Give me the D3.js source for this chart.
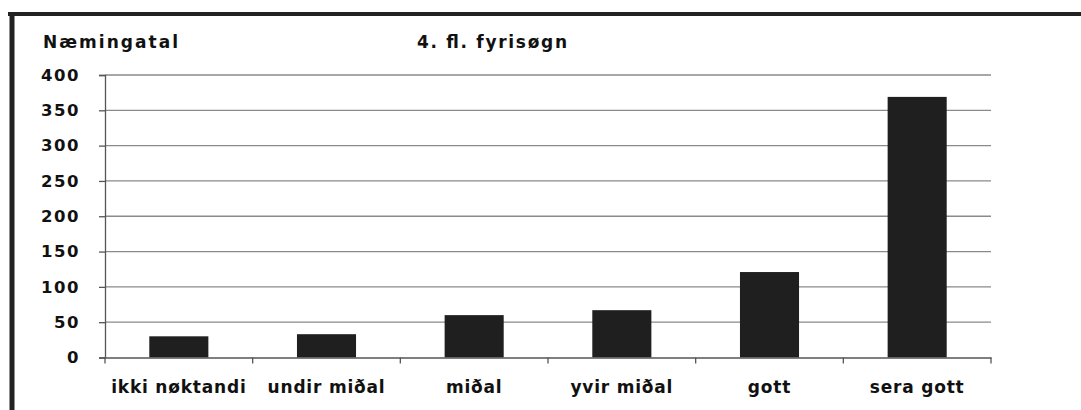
<!DOCTYPE html>
<html>
<head>
<meta charset="utf-8">
<script src="https://cdn.jsdelivr.net/npm/d3@7"></script>
<style>
  body { margin: 0; background: #fff; }
  svg { display: block; }
  .lbl { font-family: "DejaVu Sans", sans-serif; font-weight: bold; fill: #111; }
</style>
</head>
<body>
<script>
// Data
var categories = ["ikki nøktandi", "undir miðal", "miðal", "yvir miðal", "gott", "sera gott"];
var counts = [30, 33, 60, 67, 121, 369];
var yTicks = [0, 50, 100, 150, 200, 250, 300, 350, 400];

var svgWidth = 1081;
var svgHeight = 410;

var margin = { top: 75, right: 90, bottom: 52.5, left: 105 };
var width = svgWidth - margin.left - margin.right;
var height = svgHeight - margin.top - margin.bottom;

var svg = d3.select("body")
  .append("svg")
  .attr("width", svgWidth)
  .attr("height", svgHeight);

// dark frame on top and left (scanned chart border)
svg.append("line")
  .attr("x1", 8).attr("x2", svgWidth)
  .attr("y1", 14).attr("y2", 14)
  .attr("stroke", "#222").attr("stroke-width", 4);
svg.append("line")
  .attr("x1", 12).attr("x2", 12)
  .attr("y1", 12).attr("y2", svgHeight)
  .attr("stroke", "#222").attr("stroke-width", 5);

var chartGroup = svg.append("g")
  .attr("transform", `translate(${margin.left}, ${margin.top})`);

var xScale = d3.scaleBand()
  .domain(categories)
  .range([0, width])
  .paddingInner(0.6)
  .paddingOuter(0.3);

var yScale = d3.scaleLinear()
  .domain([0, 400])
  .range([height, 0]);

// gridlines
chartGroup.append("g")
  .selectAll("line")
  .data(yTicks.filter(d => d > 0))
  .enter()
  .append("line")
  .attr("x1", 0)
  .attr("x2", width)
  .attr("y1", d => yScale(d))
  .attr("y2", d => yScale(d))
  .attr("stroke", "#8a8a8a")
  .attr("stroke-width", 1.3);

// bars
chartGroup.selectAll("rect")
  .data(counts)
  .enter()
  .append("rect")
  .attr("x", (d, i) => xScale(categories[i]))
  .attr("y", d => yScale(d))
  .attr("width", xScale.bandwidth())
  .attr("height", d => height - yScale(d))
  .attr("fill", "#1f1f1f");

// y axis
var leftAxis = d3.axisLeft(yScale)
  .tickValues(yTicks)
  .tickSize(6)
  .tickPadding(19);

var yAxis = chartGroup.append("g").call(leftAxis);
yAxis.select(".domain").attr("stroke", "#555").attr("stroke-width", 1.3);
yAxis.selectAll(".tick line").attr("stroke", "#555").attr("stroke-width", 1.3);
yAxis.selectAll("text")
  .attr("class", "lbl")
  .style("font-size", "16.5px")
  .style("letter-spacing", "1.5px");

// x axis
var bottomAxis = d3.axisBottom(xScale)
  .tickSize(0)
  .tickPadding(23);

var xAxis = chartGroup.append("g")
  .attr("transform", `translate(0, ${height})`)
  .call(bottomAxis);
xAxis.select(".domain").attr("stroke", "#555").attr("stroke-width", 1.3);
xAxis.selectAll("text")
  .attr("class", "lbl")
  .style("font-size", "17px")
  .style("letter-spacing", "0.8px");

// ticks between categories
xAxis.selectAll(".sep")
  .data(d3.range(categories.length + 1))
  .enter()
  .append("line")
  .attr("class", "sep")
  .attr("x1", i => i * xScale.step())
  .attr("x2", i => i * xScale.step())
  .attr("y1", 0)
  .attr("y2", 6)
  .attr("stroke", "#555")
  .attr("stroke-width", 1.3);

// axis title and chart title
svg.append("text")
  .attr("class", "lbl")
  .attr("x", 43)
  .attr("y", 48)
  .style("font-size", "17px")
  .attr("textLength", 135)
  .attr("lengthAdjust", "spacing")
  .text("Næmingatal");

svg.append("text")
  .attr("class", "lbl")
  .attr("x", 417)
  .attr("y", 48)
  .style("font-size", "17px")
  .attr("textLength", 150)
  .attr("lengthAdjust", "spacing")
  .text("4. fl. fyrisøgn");
</script>
</body>
</html>
